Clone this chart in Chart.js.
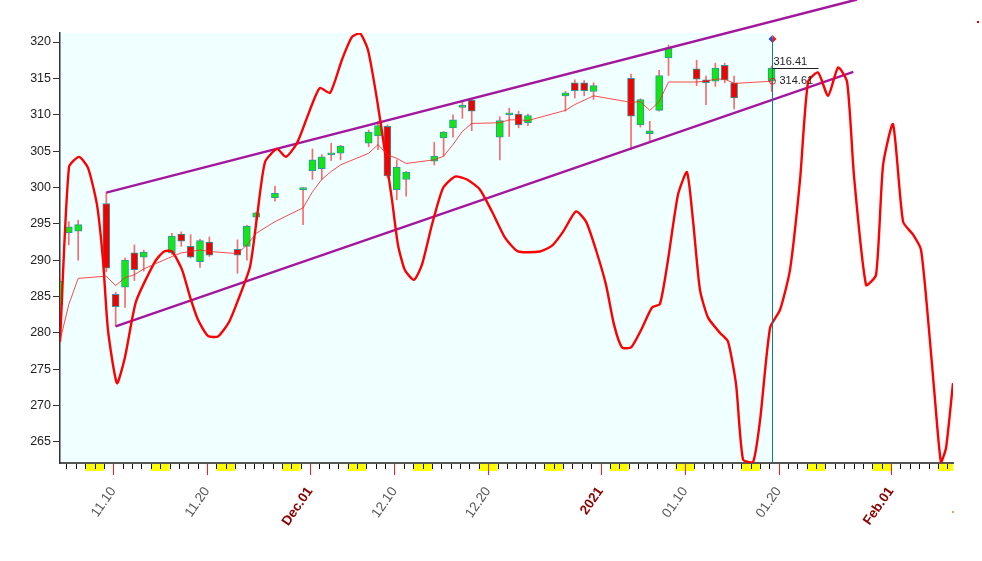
<!DOCTYPE html>
<html>
<head>
<meta charset="utf-8">
<script src="https://cdn.jsdelivr.net/npm/chart.js@4.4.0/dist/chart.umd.min.js"></script>
<style>
  html, body { margin: 0; padding: 0; background: #fff; }
  #wrap { width: 982px; height: 561px; position: relative; }
</style>
</head>
<body>
<div id="wrap"><canvas id="myChart"></canvas></div>
<script>
// daily candles
const dates = [
  '2020-11-04','2020-11-05','2020-11-06','2020-11-09','2020-11-10','2020-11-11','2020-11-12','2020-11-13',
  '2020-11-16','2020-11-17','2020-11-18','2020-11-19','2020-11-20','2020-11-23','2020-11-24','2020-11-25',
  '2020-11-27','2020-11-30','2020-12-01','2020-12-02','2020-12-03','2020-12-04','2020-12-07','2020-12-08',
  '2020-12-09','2020-12-10','2020-12-11','2020-12-14','2020-12-15','2020-12-16','2020-12-17','2020-12-18',
  '2020-12-21','2020-12-22','2020-12-23','2020-12-24','2020-12-28','2020-12-29','2020-12-30','2020-12-31',
  '2021-01-04','2021-01-05','2021-01-06','2021-01-07','2021-01-08','2021-01-11','2021-01-12','2021-01-13',
  '2021-01-14','2021-01-15','2021-01-19'
];
const opens = [
  283.8, 293.8, 294.0, 297.8, 285.3, 286.3, 291.0, 290.4,
  291.0, 293.6, 291.9, 289.8, 292.5, 291.5, 291.9, 295.9,
  298.6, 299.7, 302.3, 302.6, 304.5, 304.7, 306.1, 307.1,
  308.4, 299.7, 301.1, 303.6, 306.8, 308.2, 311.0, 312.0,
  306.9, 310.0, 310.1, 308.9, 312.6, 314.4, 314.4, 313.2,
  315.0, 308.6, 307.4, 310.6, 317.8, 316.3, 314.8, 314.6,
  316.8, 314.4, 314.6
];
const highs = [
  287.5, 295.3, 295.5, 299.3, 285.6, 290.3, 292.1, 291.4,
  293.7, 293.9, 293.5, 292.9, 293.2, 292.8, 294.8, 296.6,
  300.2, 300.0, 305.3, 304.5, 306.1, 305.8, 307.9, 309.1,
  308.6, 303.8, 302.2, 306.2, 307.7, 310.0, 311.7, 312.1,
  309.7, 310.9, 310.5, 310.1, 313.2, 314.8, 314.7, 314.4,
  315.6, 312.2, 309.1, 316.1, 319.6, 317.5, 315.3, 317.1,
  317.1, 315.3, 316.7
];
const lows = [
  283.2, 292.1, 290.0, 288.4, 280.9, 283.5, 287.2, 288.5,
  290.8, 291.9, 290.3, 289.0, 290.5, 288.2, 290.0, 294.6,
  298.1, 294.9, 301.1, 301.1, 303.7, 303.8, 305.6, 305.2,
  301.3, 298.3, 298.8, 303.1, 304.3, 306.9, 309.5, 307.8,
  303.8, 307.0, 308.2, 308.5, 310.5, 312.3, 312.6, 312.1,
  305.2, 308.3, 306.2, 310.5, 315.4, 314.0, 311.4, 313.9,
  314.4, 310.8, 313.2
];
const closes = [
  287.1, 294.6, 294.9, 288.9, 283.6, 290.0, 288.7, 291.1,
  293.3, 292.6, 290.4, 292.7, 290.7, 290.7, 294.7, 296.5,
  299.2, 299.8, 303.8, 304.2, 304.6, 305.7, 307.6, 308.5,
  301.6, 302.8, 302.1, 304.3, 307.6, 309.3, 311.3, 310.5,
  309.2, 310.1, 308.6, 309.9, 313.0, 313.3, 313.3, 314.0,
  309.8, 312.1, 307.8, 315.4, 319.2, 314.9, 314.4, 316.4,
  314.8, 312.3, 316.41
];
const ma = [
  278.6, 283.9, 287.5, 287.8, 286.5, 287.6, 288.0, 288.8,
  290.5, 291.0, 291.2, 291.4, 291.2, 290.9, 292.1, 293.7,
  295.3, 297.2, 299.4, 301.1, 302.2, 303.1, 304.7, 305.9,
  304.5, 304.0, 303.3, 303.8, 304.3, 305.9, 307.7, 308.8,
  308.9, 309.3, 309.3, 309.2, 310.6, 311.4, 312.0, 312.6,
  311.7, 311.8, 310.6, 311.8, 314.5, 314.5, 314.6, 314.9,
  314.9, 314.3, 314.61
];

// thick red curve, x in days since 2020-11-01
const waveDays = [
  3.06, 4.02, 5.09, 6.05, 7.01, 7.65, 8.18, 9.14, 10.0, 11.17, 13.2, 14.16, 15.01, 16.08, 16.93, 17.79,
  18.85, 19.92, 21.1, 22.06, 23.34, 24.08, 24.94, 26.22, 27.18, 28.35, 29.42, 30.17, 30.81, 31.88, 33.16,
  34.22, 35.08, 35.93, 36.89, 37.75, 38.49, 39.13, 39.88, 40.84, 41.69, 42.76, 43.93, 45.22, 46.5, 47.88,
  49.16, 50.55, 51.94, 54.29, 55.57, 56.74, 58.13, 59.2, 60.26, 61.33, 62.19, 63.04, 64.0, 65.07, 66.24,
  67.09, 67.94, 69.01, 69.97, 70.61, 71.36, 72.22, 73.5, 74.35, 75.21, 75.95, 77.02, 77.77, 78.84, 79.91,
  80.97, 82.04, 82.89, 83.96, 85.03, 86.1, 87.06, 87.8, 89.08, 90.15, 90.9, 91.96, 93.03, 94.1, 94.95,
  95.8, 96.44, 97.08, 97.62, 98.36
];
const waveVals = [
  278.8, 302.8, 304.2, 302.7, 297.6, 290.0, 280.4, 273.1, 276.7, 284.3, 289.8, 291.2, 291.2, 288.7, 285.0, 281.8,
  279.6, 279.5, 281.5, 284.5, 289.1, 295.9, 303.5, 305.3, 304.2, 306.1, 309.6, 312.1, 313.7, 313.0, 317.6,
  320.7, 321.2, 318.9, 312.1, 304.8, 298.3, 292.1, 288.6, 287.3, 289.4, 294.9, 299.9, 301.5, 301.1, 299.7,
  296.7, 293.1, 291.2, 291.2, 292.0, 293.9, 296.7, 295.3, 291.4, 286.6, 281.1, 278.0, 278.0, 280.4, 283.5,
  284.0, 290.0, 299.0, 302.1, 295.5, 285.9, 282.1, 280.0, 278.8, 272.9, 262.6, 262.2, 268.0, 280.7, 283.2,
  288.7, 301.1, 314.5, 315.8, 312.6, 316.5, 314.5, 301.5, 286.6, 288.0, 303.1, 308.7, 295.3, 293.5, 291.4,
  280.4, 270.8, 262.2, 264.2, 273.1
];

// channel lines
const upperDays = [8, 88.12];
const upperVals = [299.3, 325.85];
const lowerDays = [9, 87.72];
const lowerVals = [280.9, 315.88];

// axis labels
const tickDays = [9, 19, 30, 39, 49, 61, 70, 80, 92];
const tickLabels = ['11.10', '11.20', 'Dec.01', '12.10', '12.20', '2021', '01.10', '01.20', 'Feb.01'];
const tickBold = [false, false, true, false, false, true, false, false, true];
const saturdays = [6, 13, 20, 27, 34, 41, 48, 55, 62, 69, 76, 83, 90, 97];
const yTicks = [265, 270, 275, 280, 285, 290, 295, 300, 305, 310, 315, 320];

const TICK_SHIFT = -0.25;
const dayOf = s => Math.round((Date.UTC(+s.slice(0, 4), +s.slice(5, 7) - 1, +s.slice(8, 10)) - Date.UTC(2020, 10, 1)) / 864e5);
const xs = dates.map(dayOf);
const allDays = [];
for (let d = 4; d <= 98; d++) allDays.push(d);

const labelIndex = c => (c && c.tick) ? tickDays.indexOf(Math.round(c.tick.value - TICK_SHIFT)) : -1;

const extras = {
  id: 'extras',
  beforeDraw(chart) {
    const { ctx, chartArea: a, scales: { x } } = chart;
    ctx.save();
    ctx.fillStyle = '#fff';
    ctx.fillRect(0, 0, chart.width, chart.height);
    ctx.fillStyle = '#f0ffff';
    const xr = x.getPixelForValue(xs[xs.length - 1]);
    ctx.fillRect(a.left, a.top, xr - a.left, a.bottom - a.top);
    ctx.restore();
  },
  afterDatasetsDraw(chart) {
    const { ctx, chartArea: a, scales: { x, y } } = chart;
    const last = xs.length - 1;
    const px = Math.round(x.getPixelForValue(xs[last])) + 0.5;
    ctx.save();
    // cursor line
    ctx.strokeStyle = '#0f8080';
    ctx.lineWidth = 1;
    ctx.beginPath();
    ctx.moveTo(px, a.top + 6);
    ctx.lineTo(px, a.bottom);
    ctx.stroke();
    // diamond
    const dy = a.top + 6;
    ctx.fillStyle = '#1e4fd8';
    ctx.beginPath();
    ctx.moveTo(px, dy - 4); ctx.lineTo(px - 4, dy); ctx.lineTo(px, dy + 4); ctx.closePath(); ctx.fill();
    ctx.fillStyle = '#e02020';
    ctx.beginPath();
    ctx.moveTo(px, dy - 4); ctx.lineTo(px + 4, dy); ctx.lineTo(px, dy + 4); ctx.closePath(); ctx.fill();
    // close price marker
    const cy = Math.round(y.getPixelForValue(closes[last])) + 0.5;
    ctx.strokeStyle = '#222';
    ctx.beginPath();
    ctx.moveTo(px, cy); ctx.lineTo(px + 46, cy); ctx.stroke();
    ctx.font = '11px "Liberation Sans", Arial, sans-serif';
    ctx.fillStyle = '#222';
    ctx.textBaseline = 'bottom';
    ctx.fillText(closes[last].toFixed(2), px + 1, cy - 1);
    // MA marker
    const my = y.getPixelForValue(ma[last]);
    ctx.strokeStyle = '#e02020';
    ctx.beginPath();
    ctx.arc(px, my, 3, 0, Math.PI * 2);
    ctx.stroke();
    ctx.textBaseline = 'middle';
    ctx.fillText(ma[last].toFixed(2), px + 7, my);
    ctx.restore();
  },
  afterDraw(chart) {
    const { ctx, chartArea: a, scales: { x } } = chart;
    ctx.save();
    ctx.beginPath();
    ctx.rect(a.left, a.bottom, a.right - a.left, 20);
    ctx.clip();
    ctx.fillStyle = '#ffff00';
    saturdays.forEach(d => {
      const x0 = x.getPixelForValue(d + TICK_SHIFT);
      const x1 = x.getPixelForValue(d + 2 + TICK_SHIFT);
      ctx.fillRect(x0, a.bottom + 1, x1 - x0, 7);
    });
    ctx.lineWidth = 1;
    allDays.forEach(d => {
      const tx = Math.round(x.getPixelForValue(d + TICK_SHIFT)) + 0.5;
      const big = tickDays.indexOf(d) >= 0;
      ctx.strokeStyle = big ? '#ff1a1a' : '#111';
      ctx.beginPath();
      ctx.moveTo(tx, a.bottom + 1);
      ctx.lineTo(tx, a.bottom + (big ? 12 : 6));
      ctx.stroke();
    });
    ctx.restore();
    ctx.save();
    ctx.fillStyle = '#e00000';
    ctx.fillRect(977, 21, 2, 2);
    ctx.fillStyle = '#f0a040';
    ctx.fillRect(952, 511, 2, 2);
    ctx.restore();
  }
};

const ctx = document.getElementById('myChart').getContext('2d');
new Chart(ctx, {
  type: 'bar',
  data: {
    datasets: [
      {
        type: 'line',
        data: xs.map((d, i) => ({ x: d, y: ma[i] })),
        borderColor: 'rgba(255,30,30,0.8)',
        borderWidth: 1,
        pointRadius: 0,
        order: 0,
      },
      {
        type: 'line',
        data: waveDays.map((d, i) => ({ x: d, y: waveVals[i] })),
        borderColor: '#ff0000',
        borderWidth: 2.4,
        pointRadius: 0,
        tension: 0.2,
        order: 1,
      },
      {
        type: 'line',
        data: upperDays.map((d, i) => ({ x: d, y: upperVals[i] })),
        borderColor: '#a3179f',
        borderWidth: 2.4,
        pointRadius: 0,
        clip: false,
        order: 2,
      },
      {
        type: 'line',
        data: lowerDays.map((d, i) => ({ x: d, y: lowerVals[i] })),
        borderColor: '#a3179f',
        borderWidth: 2.4,
        pointRadius: 0,
        clip: false,
        order: 2,
      },
      {
        data: xs.map((d, i) => ({ x: d, y: [opens[i], closes[i]] })),
        backgroundColor: xs.map((d, i) => closes[i] >= opens[i] ? '#14e614' : '#f20000'),
        borderColor: '#2b9a9a',
        borderWidth: 1,
        borderSkipped: false,
        minBarLength: 2,
        grouped: false,
        barPercentage: 1,
        categoryPercentage: 1,
        maxBarThickness: 7,
        order: 3,
      },
      {
        data: xs.map((d, i) => ({ x: d, y: [lows[i], highs[i]] })),
        backgroundColor: 'rgba(255,70,70,0.8)',
        borderWidth: 0,
        grouped: false,
        barPercentage: 1,
        categoryPercentage: 1,
        maxBarThickness: 1,
        order: 4,
      },
    ]
  },
  options: {
    responsive: true,
    maintainAspectRatio: false,
    animation: false,
    layout: { padding: { top: 33, right: 29, left: 0, bottom: 0 } },
    plugins: { legend: { display: false }, tooltip: { enabled: false } },
    scales: {
      x: {
        type: 'linear',
        min: 3.06,
        max: 98.36,
        offset: false,
        grid: { display: false, drawTicks: false },
        border: { display: true, color: '#555', width: 2 },
        afterBuildTicks: s => { s.ticks = allDays.map(d => ({ value: d + TICK_SHIFT })); },
        afterFit: s => { s.height = 98; },
        ticks: {
          autoSkip: false,
          minRotation: 55,
          maxRotation: 55,
          padding: 21,
          callback: v => {
            const i = tickDays.indexOf(Math.round(v - TICK_SHIFT));
            return i < 0 ? '' : tickLabels[i];
          },
          color: c => {
            const i = labelIndex(c);
            return i >= 0 && tickBold[i] ? '#8b0000' : '#555';
          },
          font: c => {
            const i = labelIndex(c);
            return { family: '"Liberation Sans", Arial, sans-serif', size: 13.5, weight: i >= 0 && tickBold[i] ? 'bold' : 'normal' };
          }
        }
      },
      y: {
        min: 262.11,
        max: 321.24,
        grid: { display: true, drawOnChartArea: false, tickLength: 7, tickColor: '#333' },
        border: { display: true, color: '#333', width: 1.5 },
        afterBuildTicks: s => { s.ticks = yTicks.map(v => ({ value: v })); },
        afterFit: s => { s.width = 60; },
        ticks: {
          color: '#222',
          padding: 2,
          font: { family: '"Liberation Sans", Arial, sans-serif', size: 12.5 }
        }
      }
    }
  },
  plugins: [extras]
});
</script>
</body>
</html>
